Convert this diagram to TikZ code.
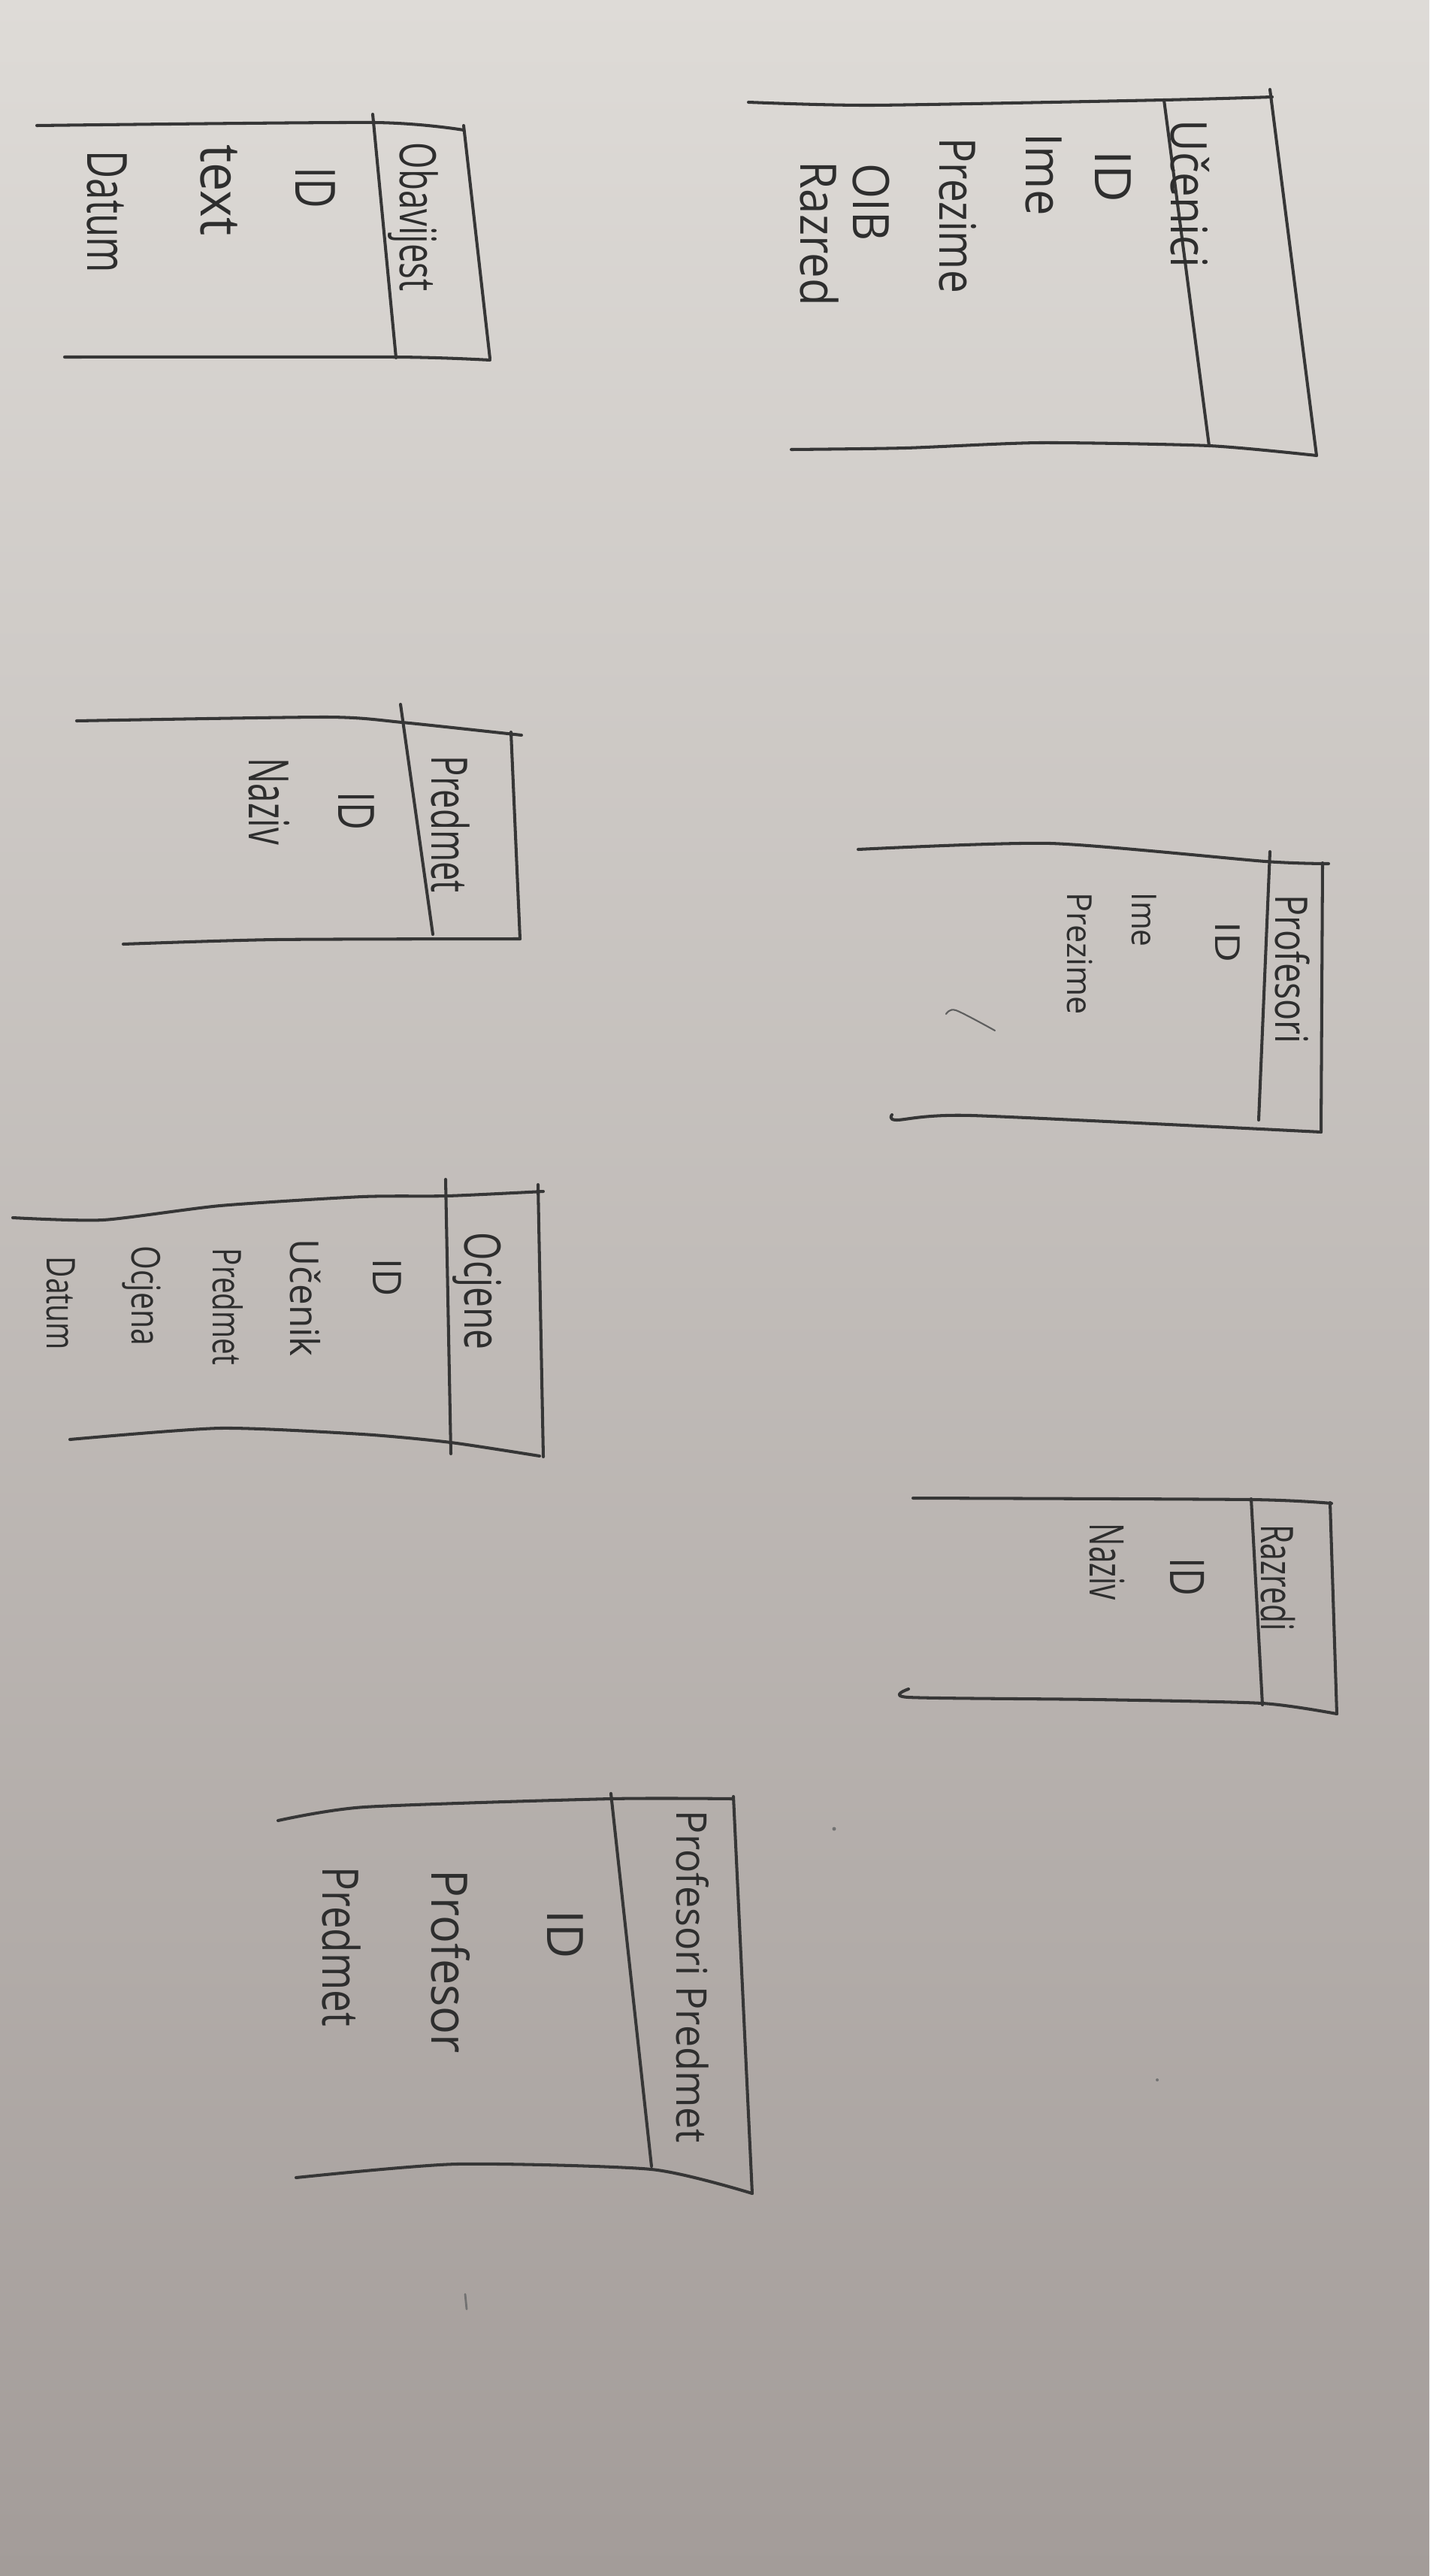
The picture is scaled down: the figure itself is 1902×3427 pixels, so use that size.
\documentclass[tikz,border=0pt]{standalone}
\usepackage{fontspec}
\usepackage{graphicx}
\setmainfont{Open Sans}
\definecolor{ink}{HTML}{363636}
\definecolor{inktext}{HTML}{2E2E2E}
\definecolor{papertop}{HTML}{DEDBD7}
\definecolor{papermid}{HTML}{C9C5C2}
\definecolor{paperbot}{HTML}{A39C99}
\newcommand\hwfit[2]{\resizebox{#1}{\height}{#2}}
\tikzset{
  pen/.style={draw=ink, line width=1.15pt, line cap=round, line join=round},
  hw/.style={rotate=-90, anchor=west, inner sep=0pt, text=inktext,
    font=\fontsize{#1}{#1}\selectfont},
  hw/.default=19,
  speck/.style={fill=ink!70, draw=none}
}
\begin{document}
\begin{tikzpicture}[x=0.01cm, y=-0.01cm]
\useasboundingbox (0,0) rectangle (1902,3427);
\shade[top color=papertop, middle color=papermid, bottom color=paperbot] (0,0) rectangle (1902,3427);

% ---------- Ucenici ----------
\draw[pen] plot[smooth, tension=0.4] coordinates {(996,136) (1161,140) (1549,133) (1693,129)};
\draw[pen] (1690,119) -- (1752,606);
\draw[pen] (1549,133) -- (1609,593);
\draw[pen] plot[smooth, tension=0.4] coordinates {(1053,598) (1205,596) (1384,589) (1609,593) (1752,606)};
\node[hw=19] (uc-h) at (1584,159) {\hwfit{1.96cm}{Učenici}};
\node[hw=19] (uc-1) at (1481,200) {\hwfit{0.69cm}{ID}};
\node[hw=19] (uc-2) at (1389,177) {\hwfit{1.09cm}{Ime}};
\node[hw=19] (uc-3) at (1275,183) {\hwfit{2.06cm}{Prezime}};
\node[hw=19] (uc-4) at (1159,217) {\hwfit{1.03cm}{OIB}};
\node[hw=19] (uc-5) at (1091,214) {\hwfit{1.92cm}{Razred}};

% ---------- Obavijest ----------
\draw[pen] plot[smooth, tension=0.4] coordinates {(49,167) (498,163) (617,173)};
\draw[pen] (617,167) -- (652,477);
\draw[pen] (496,152) -- (527,476);
\draw[pen] plot[smooth, tension=0.4] coordinates {(86,475) (527,475) (652,479)};
\node[hw=19] (ob-h) at (550,189) {\hwfit{1.98cm}{Obavijest}};
\node[hw=21] (ob-1) at (420,222) {\hwfit{0.55cm}{ID}};
\node[hw=21] (ob-2) at (291,192) {\hwfit{1.21cm}{text}};
\node[hw=21] (ob-3) at (142,200) {\hwfit{1.62cm}{Datum}};

% ---------- Predmet ----------
\draw[pen] plot[smooth, tension=0.4] coordinates {(102,959) (435,954) (535,961) (694,978)};
\draw[pen] (680,974) -- (692,1249);
\draw[pen] (533,937) -- (576,1243);
\draw[pen] plot[smooth, tension=0.4] coordinates {(164,1256) (366,1250) (692,1249)};
\node[hw=19] (pr-h) at (600,1005) {\hwfit{1.82cm}{Predmet}};
\node[hw=19] (pr-1) at (474,1053) {\hwfit{0.51cm}{ID}};
\node[hw=21] (pr-2) at (358,1008) {\hwfit{1.15cm}{Naziv}};

% ---------- Profesori ----------
\draw[pen] plot[smooth, tension=0.4] coordinates {(1142,1130) (1398,1122) (1684,1146) (1768,1149)};
\draw[pen] (1760,1148) -- (1758,1506);
\draw[pen] (1690,1133) -- (1675,1490);
\draw[pen] plot[smooth, tension=0.4] coordinates {(1187,1483) (1193,1490) (1293,1484) (1758,1506)};
\node[hw=17] (pf-h) at (1720,1190) {\hwfit{1.98cm}{Profesori}};
\node[hw=13] (pf-1) at (1634,1226) {\hwfit{0.54cm}{ID}};
\node[hw=13] (pf-2) at (1523,1187) {\hwfit{0.72cm}{Ime}};
\node[hw=13] (pf-3) at (1437,1187) {\hwfit{1.62cm}{Prezime}};
\draw[draw=ink!80, line width=0.6pt, line cap=round] plot[smooth] coordinates {(1259,1349) (1272,1344) (1324,1371)};

% ---------- Ocjene ----------
\draw[pen] plot[smooth, tension=0.4] coordinates {(17,1620) (137,1623) (293,1604) (482,1592) (595,1591) (723,1585)};
\draw[pen] (716,1576) -- (723,1938);
\draw[pen] (593,1569) -- (600,1934);
\draw[pen] plot[smooth, tension=0.4] coordinates {(93,1915) (293,1900) (482,1908) (600,1919) (718,1937)};
\node[hw=19] (oc-h) at (635,1639) {\hwfit{1.56cm}{Ocjene}};
\node[hw=15] (oc-1) at (515,1674) {\hwfit{0.50cm}{ID}};
\node[hw=15] (oc-2) at (406,1648) {\hwfit{1.56cm}{Učenik}};
\node[hw=15] (oc-3) at (303,1660) {\hwfit{1.55cm}{Predmet}};
\node[hw=15] (oc-4) at (189,1657) {\hwfit{1.32cm}{Ocjena}};
\node[hw=15] (oc-5) at (81,1671) {\hwfit{1.24cm}{Datum}};

% ---------- Razredi ----------
\draw[pen] plot[smooth, tension=0.4] coordinates {(1215,1993) (1665,1995) (1772,2000)};
\draw[pen] (1770,1999) -- (1779,2280);
\draw[pen] (1665,1994) -- (1680,2268);
\draw[pen] plot[smooth, tension=0.4] coordinates {(1209,2247) (1209,2258) (1458,2261) (1680,2266) (1779,2280)};
\node[hw=17] (rz-h) at (1701,2028) {\hwfit{1.41cm}{Razredi}};
\node[hw=18] (rz-1) at (1580,2072) {\hwfit{0.51cm}{ID}};
\node[hw=18] (rz-2) at (1473,2026) {\hwfit{1.02cm}{Naziv}};

% ---------- Profesori Predmet ----------
\draw[pen] plot[smooth, tension=0.4] coordinates {(370,2422) (485,2404) (813,2393) (976,2393)};
\draw[pen] (976,2390) -- (1001,2918);
\draw[pen] (813,2386) -- (867,2882);
\draw[pen] plot[smooth, tension=0.4] coordinates {(394,2897) (607,2879) (867,2886) (1001,2918)};
\node[hw=16] (pp-h) at (922,2408) {\hwfit{4.42cm}{Profesori Predmet}};
\node[hw=19] (pp-1) at (752,2541) {\hwfit{0.64cm}{ID}};
\node[hw=19] (pp-2) at (600,2487) {\hwfit{2.44cm}{Profesor}};
\node[hw=19] (pp-3) at (455,2483) {\hwfit{2.12cm}{Predmet}};

% specks on the paper
\fill[speck] (1110,2433) circle (2.5);
\fill[speck] (1540,2767) circle (2);
\draw[draw=ink!70, line width=0.8pt, line cap=round] (619,3052) -- (621,3072);
\end{tikzpicture}
\end{document}
